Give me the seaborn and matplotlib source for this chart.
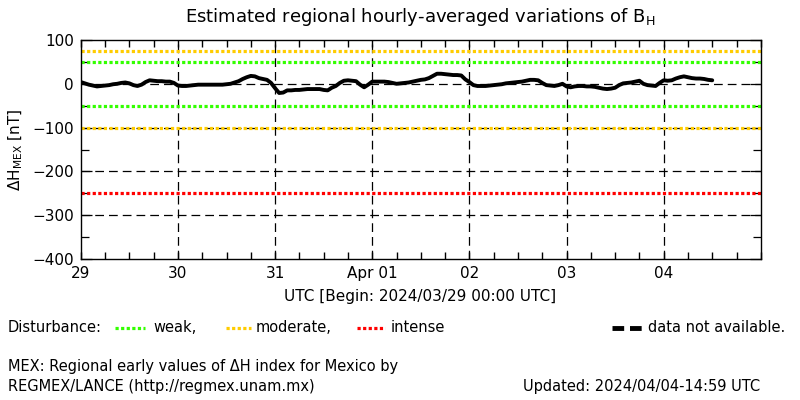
import pandas as pd
import matplotlib
matplotlib.use("Agg")
import matplotlib.pyplot as plt
from matplotlib.lines import Line2D
from matplotlib.ticker import MultipleLocator, FuncFormatter
import seaborn as sns

# hourly-averaged dH_MEX [nT], starting 2024/03/29 00:00 UTC
dH = [
    4, 1, -2, -4, -6, -5, -4, -3, -1, 0, 2, 3, 1, -3, -5, -2, 4, 8, 7, 6, 6, 5, 5, 2,
    -4, -5, -5, -4, -3, -2, -2, -2, -2, -2, -2, -2, -1, 0, 3, 6, 11, 15, 18, 17, 13, 11, 9, 2,
    -10, -21, -20, -15, -15, -14, -14, -13, -12, -12, -12, -12, -14, -15, -9, -5, 2, 7, 8, 7, 6, -2, -8, -2,
    5, 5, 5, 5, 4, 2, 0, 1, 2, 3, 5, 7, 9, 10, 13, 18, 23, 23, 22, 21, 20, 20, 19, 10,
    4, -3, -5, -5, -5, -4, -3, -2, -1, 1, 2, 3, 4, 5, 7, 9, 9, 8, 2, -3, -4, -5, -3, 0,
    -6, -8, -6, -5, -5, -6, -6, -7, -9, -11, -12, -11, -9, -3, 1, 2, 3, 5, 7, 0, -3, -4, -5, 2,
    8, 7, 8, 12, 15, 17, 15, 13, 12, 12, 11, 9, 8,
]
day_labels = ["29", "30", "31", "Apr 01", "02", "03", "04"]
weak_levels = [50, -50]
moderate_levels = [75, -100]
intense_levels = [-250]

GREEN = "#33ff00"
ORANGE = "#ffcc00"
RED = "#ff0000"

df = pd.DataFrame({"day": [h / 24 for h in range(len(dH))], "dH": dH})

sns.set_style("white")
plt.rcParams["font.family"] = ["DejaVu Sans"]
plt.rcParams.update({"text.color": "black", "axes.labelcolor": "black",
                     "xtick.color": "black", "ytick.color": "black"})

fig = plt.figure(figsize=(8, 4), dpi=100)
ax = fig.add_axes([0.101, 0.3525, 0.85, 0.5475])

sns.lineplot(data=df, x="day", y="dH", color="black", lw=2.8, ax=ax, zorder=3)
ax.set_xlim(0, 7)
ax.set_ylim(-400, 100)

dot = (0, (1.0, 0.75))
for lv in weak_levels:
    ax.axhline(lv, color=GREEN, lw=2.3, ls=dot, zorder=2)
for lv in moderate_levels:
    ax.axhline(lv, color=ORANGE, lw=2.3, ls=dot, zorder=2)
for lv in intense_levels:
    ax.axhline(lv, color=RED, lw=2.3, ls=dot, zorder=2)

# dashed grid
for yv in [0, -100, -200, -300]:
    ax.axhline(yv, color="black", lw=0.9, ls=(0, (7, 4)), zorder=1)
for d in range(1, 7):
    ax.axvline(d, color="black", lw=0.9, ls=(0, (7, 4)), zorder=1)

for sp in ax.spines.values():
    sp.set_color("black")
    sp.set_linewidth(1)


def day_fmt(x, pos):
    # label only whole days, 6-hour ticks stay unlabeled
    i = int(round(x))
    if abs(x - i) < 1e-6 and 0 <= i < len(day_labels):
        return day_labels[i]
    return ""


ax.xaxis.set_major_locator(MultipleLocator(0.25))
ax.xaxis.set_major_formatter(FuncFormatter(day_fmt))
ax.yaxis.set_major_locator(MultipleLocator(100))
ax.yaxis.set_minor_locator(MultipleLocator(50))
ax.tick_params(which="both", direction="in", top=True, right=True, bottom=True, left=True,
               labelsize=11, color="black", labelcolor="black", pad=5)
ax.tick_params(axis="x", which="major", length=5, width=1)
ax.tick_params(axis="y", which="major", length=8, width=0.9)
ax.tick_params(axis="y", which="minor", length=6, width=0.9)

ax.set_xlabel("")
ax.set_ylabel("")
fig.text(0.525, 0.93, r"Estimated regional hourly-averaged variations of B$_{\mathregular{H}}$",
         ha="center", va="bottom", fontsize=13)
fig.text(0.02, 0.625, r"$\Delta$H$_{\mathregular{MEX}}$ [nT]", rotation=90,
         ha="center", va="center", fontsize=11)
fig.text(0.525, 0.2575, "UTC [Begin: 2024/03/29 00:00 UTC]", ha="center", va="center", fontsize=11)

# legend row
ly = 0.18
fig.text(0.01, ly, "Disturbance:", ha="left", va="center", fontsize=10.5)
fig.add_artist(Line2D([0.144, 0.181], [ly, ly], color=GREEN, lw=2.3, ls=dot))
fig.text(0.192, ly, "weak,", ha="left", va="center", fontsize=10.5)
fig.add_artist(Line2D([0.283, 0.314], [ly, ly], color=ORANGE, lw=2.3, ls=dot))
fig.text(0.319, ly, "moderate,", ha="left", va="center", fontsize=10.5)
fig.add_artist(Line2D([0.446, 0.481], [ly, ly], color=RED, lw=2.3, ls=dot))
fig.text(0.488, ly, "intense", ha="left", va="center", fontsize=10.5)
fig.add_artist(Line2D([0.765, 0.803], [ly, ly], color="black", lw=3.5, ls=(0, (2.4, 1.2))))
fig.text(0.81, ly, "data not available.", ha="left", va="center", fontsize=10.5)

fig.text(0.01, 0.0825, "MEX: Regional early values of ΔH index for Mexico by",
         ha="left", va="center", fontsize=10.5)
fig.text(0.01, 0.0325, "REGMEX/LANCE (http://regmex.unam.mx)",
         ha="left", va="center", fontsize=10.5)
fig.text(0.95, 0.0325, "Updated: 2024/04/04-14:59 UTC",
         ha="right", va="center", fontsize=10.5)

fig.savefig("out.png", dpi=100, facecolor="white")
